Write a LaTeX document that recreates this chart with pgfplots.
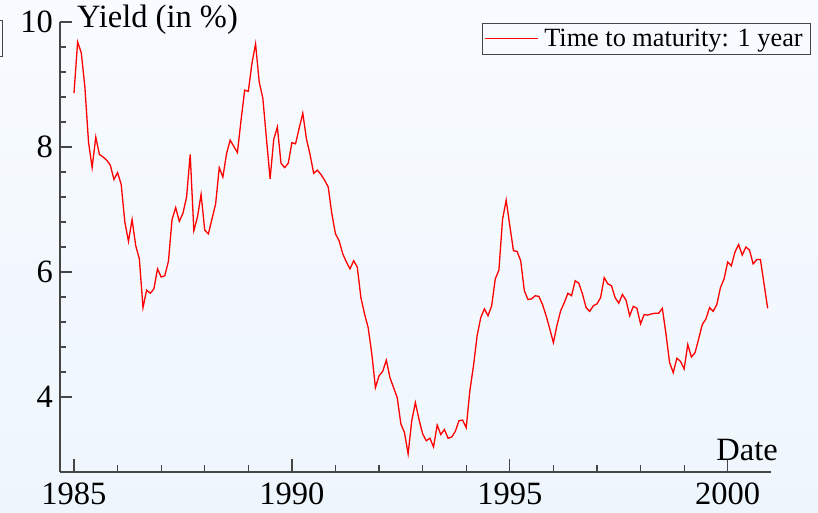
\documentclass[border=0pt]{standalone}
\usepackage{pgfplots}
\pgfplotsset{compat=1.18}
\usepackage{pgfplotstable}
\usepackage{fontspec}
\setmainfont{Liberation Serif}
\definecolor{bgtop}{RGB}{248,251,255}
\definecolor{bgbot}{RGB}{238,246,253}
\definecolor{axgray}{RGB}{70,70,70}

% monthly yields, month 0 = Jan 1985
\pgfplotstableread{
m y
0 8.86
1 9.68
2 9.51
3 8.96
4 8.08
5 7.67
6 8.16
7 7.88
8 7.84
9 7.79
10 7.71
11 7.48
12 7.59
13 7.40
14 6.80
15 6.49
16 6.84
17 6.42
18 6.21
19 5.43
20 5.71
21 5.66
22 5.73
23 6.05
24 5.92
25 5.94
26 6.17
27 6.84
28 7.03
29 6.81
30 6.94
31 7.20
32 7.88
33 6.66
34 6.88
35 7.24
36 6.67
37 6.61
38 6.85
39 7.09
40 7.67
41 7.52
42 7.89
43 8.11
44 8.01
45 7.91
46 8.43
47 8.91
48 8.89
49 9.34
50 9.65
51 9.04
52 8.78
53 8.13
54 7.49
55 8.12
56 8.32
57 7.74
58 7.67
59 7.74
60 8.07
61 8.05
62 8.30
63 8.54
64 8.13
65 7.88
66 7.58
67 7.63
68 7.56
69 7.47
70 7.36
71 6.93
72 6.61
73 6.50
74 6.29
75 6.16
76 6.05
77 6.18
78 6.08
79 5.59
80 5.33
81 5.11
82 4.69
83 4.15
84 4.34
85 4.41
86 4.59
87 4.31
88 4.15
89 3.99
90 3.57
91 3.43
92 3.09
93 3.62
94 3.91
95 3.64
96 3.41
97 3.30
98 3.34
99 3.20
100 3.55
101 3.40
102 3.48
103 3.34
104 3.36
105 3.45
106 3.62
107 3.63
108 3.51
109 4.10
110 4.50
111 4.98
112 5.27
113 5.41
114 5.30
115 5.46
116 5.89
117 6.03
118 6.84
119 7.15
120 6.74
121 6.34
122 6.33
123 6.18
124 5.70
125 5.56
126 5.57
127 5.62
128 5.61
129 5.48
130 5.30
131 5.09
132 4.87
133 5.15
134 5.38
135 5.51
136 5.66
137 5.62
138 5.86
139 5.82
140 5.65
141 5.43
142 5.37
143 5.46
144 5.49
145 5.59
146 5.91
147 5.81
148 5.78
149 5.59
150 5.50
151 5.64
152 5.55
153 5.30
154 5.45
155 5.42
156 5.17
157 5.32
158 5.31
159 5.33
160 5.34
161 5.34
162 5.42
163 5.01
164 4.55
165 4.39
166 4.62
167 4.57
168 4.45
169 4.84
170 4.64
171 4.71
172 4.93
173 5.16
174 5.25
175 5.43
176 5.37
177 5.48
178 5.75
179 5.89
180 6.16
181 6.10
182 6.32
183 6.44
184 6.27
185 6.40
186 6.35
187 6.13
188 6.20
189 6.20
190 5.81
191 5.42
}\yields

\begin{document}
\begin{tikzpicture}[x=1pt,y=1pt]
\useasboundingbox (0,0) rectangle (818,513);
\shade[top color=bgtop,bottom color=bgbot] (0,0) rectangle (818,513);
% cut-off box at the left edge
\draw[axgray,line width=1pt] (-20,456.3) rectangle (2,492.3);
\begin{axis}[
  at={(60pt,41pt)}, anchor=south west,
  scale only axis, width=711.3pt, height=450pt,
  xmin=1984.679, xmax=2001.0, ymin=2.8, ymax=10,
  axis lines=left, axis line style={-, axgray, line width=1.3pt},
  xtick={1985,1990,1995,2000}, minor x tick num=4,
  ytick={4,6,8,10}, minor y tick num=4,
  major tick length=12.5pt, minor tick length=6.5pt,
  tick align=inside,
  every tick/.style={axgray, line width=1.2pt},
  clip=false,
  /pgf/number format/1000 sep={},
  /pgf/number format/assume math mode=true,
  ticklabel style={font=\fontsize{32.5}{36}\selectfont},
  xticklabel style={inner ysep=11pt},
  yticklabel style={inner xsep=7pt},
  legend image code/.code={\draw[#1] (0pt,0pt) -- (53pt,0pt);},
  legend style={at={(axis description cs:1.0558,0.9984)}, anchor=north east,
    draw=axgray, line width=1pt, fill=none,
    font=\fontsize{26.3}{30}\selectfont,
    inner xsep=2.25pt, inner ysep=0pt,
    nodes={inner xsep=5.6pt, inner ysep=6pt}},
  legend cell align=left,
]
\addplot[red, line width=1.3pt, no markers] table[x expr=1985+\thisrow{m}/12, y=y] {\yields};
\addlegendentry{Time to maturity: 1 year}
\node[anchor=base west, inner sep=0pt, font=\fontsize{32.5}{36}\selectfont]
  at (axis description cs:0.0239,0.9867) {Yield (in \%)};
\node[anchor=base east, inner sep=0pt, font=\fontsize{32.5}{36}\selectfont]
  at (axis description cs:1.0094,0.0251) {Date};
\end{axis}
\end{tikzpicture}
\end{document}
